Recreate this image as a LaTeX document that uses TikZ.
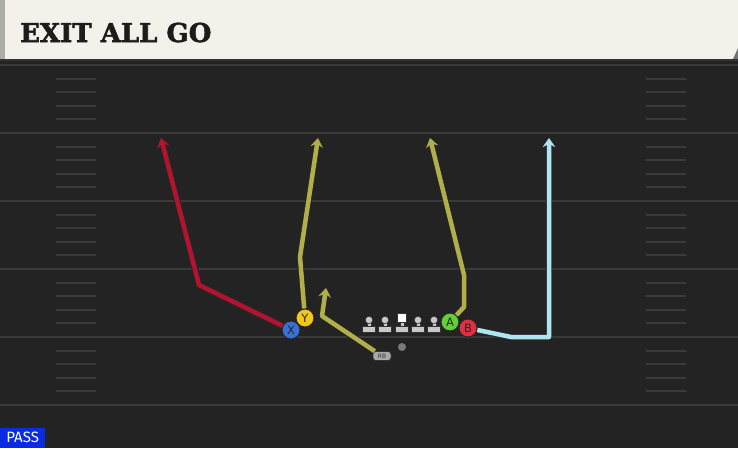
\documentclass[tikz,border=0pt]{standalone}
\usepackage{fontspec}
\usetikzlibrary{arrows.meta}
\newfontfamily\titlefont{DejaVu Serif}[FakeBold=2.2]
\newfontfamily\labelfont{DejaVu Sans}
\newfontfamily\passfont{Fira Sans}
\definecolor{header}{HTML}{F4F1EA}
\definecolor{strip}{HTML}{ADADA8}
\definecolor{field}{HTML}{232323}
\definecolor{yardline}{HTML}{3A3A3A}
\definecolor{titleink}{HTML}{1C1C1C}
\definecolor{routered}{HTML}{B3132F}
\definecolor{routeolive}{HTML}{B2AE4A}
\definecolor{routeblue}{HTML}{AEE5F1}
\definecolor{xblue}{HTML}{3B6FD6}
\definecolor{yyellow}{HTML}{F4C61A}
\definecolor{agreen}{HTML}{62CF3A}
\definecolor{bred}{HTML}{E0303F}
\definecolor{lineg}{HTML}{C9C9C9}
\definecolor{passblue}{HTML}{0A2BE3}
\definecolor{ballgray}{HTML}{7A7A7A}
\definecolor{rbgray}{HTML}{A9A9A9}
\begin{document}
\begin{tikzpicture}[x=1pt, y=-1pt, >={Stealth[length=9pt,width=12.5pt,inset=3pt]}]
	\tikzstyle{player} = [circle, draw=black!85, line width=1pt, minimum size=18pt, inner sep=0pt, font=\labelfont\fontsize{11.5}{11.5}\selectfont, text=black!85]
	\tikzstyle{route} = [line width=4.5pt, line join=round, preaction={draw=black!85, line width=6.5pt, line join=round, -{Stealth[length=11pt,width=15.5pt,inset=3.5pt]}}, ->]
	\tikzstyle{yard} = [yardline, line width=2pt]
	\tikzstyle{hash} = [yardline, line width=2pt]
	\tikzstyle{linebase} = [rectangle, fill=lineg, draw=black!80, line width=0.6pt, minimum width=13pt, minimum height=6pt, inner sep=0pt]
	\tikzstyle{lineman} = [fill=lineg, draw=black!80, line width=0.6pt]
	\useasboundingbox (0,0) rectangle (738,448);
	\fill[field] (0,59) rectangle (738,448);
	\fill[header] (0,0) -- (738,0) -- (738,48) -- (733,59) -- (0,59) -- cycle;
	\fill[black!55] (733,59) -- (738,48) -- (738,59) -- cycle;
	\fill[strip] (0,0) rectangle (5,59);
	\fill[black!80] (0,59) rectangle (738,61);
	\node[anchor=base west, font=\titlefont\bfseries\fontsize{26}{26}\selectfont, text=titleink, inner sep=0pt] (title) at (20,42) {EXIT ALL GO};
	\foreach \y in {65,133,...,406}
		\draw[yard] (0,\y) -- (738,\y);
	\foreach \y in {65,133,...,338}
		\foreach \k in {1,...,4} {
			\draw[hash] (56,\y+13.6*\k) -- (96,\y+13.6*\k);
			\draw[hash] (646,\y+13.6*\k) -- (686,\y+13.6*\k);
		}
	\node[anchor=south west, fill=passblue, text=white, minimum width=45pt, minimum height=20pt, inner sep=0pt, font=\passfont\fontsize{15}{15}\selectfont] (pass) at (0,448) {PASS};
	% line
	\foreach \x/\n in {369/lt,385/lg,418/rg,434/rt} {
		\draw[lineman] (\x-2,327) rectangle (\x+2,321);
		\node[linebase] (\n) at (\x,329) {};
		\draw[lineman] (\x,320) circle (3.7);
	}
	\draw[lineman] (400,327) rectangle (404,321);
	\node[linebase] (c) at (402,329) {};
	\draw[fill=white, draw=black!80, line width=0.6pt] (397.5,313.5) rectangle (406.5,322.5);
	\node[circle, fill=ballgray, minimum size=8pt, inner sep=0pt] (ball) at (402,347) {};
	\node[rectangle, rounded corners=3pt, fill=rbgray, draw=black!80, line width=0.6pt, minimum width=18pt, minimum height=9pt, inner sep=0pt, font=\labelfont\fontsize{6}{6}\selectfont, text=black!80] (rb) at (382,356) {RB};
	% players
	\node[player, fill=yyellow] (y) at (305,318) {Y};
	\node[player, fill=xblue] (x) at (291,330) {X};
	\node[player, fill=agreen] (a) at (450,322) {A};
	\node[player, fill=bred] (b) at (468,328) {B};
	% routes
	\coordinate (xb) at (199,285);
	\coordinate (xe) at (161,138);
	\coordinate (yb) at (300,257);
	\coordinate (ye) at (318,138);
	\coordinate (rbb) at (322,316);
	\coordinate (rbe) at (326,288);
	\coordinate (ab1) at (464,307);
	\coordinate (ab2) at (464,275);
	\coordinate (ae) at (430,138);
	\coordinate (bb1) at (511,337);
	\coordinate (bb2) at (549,337);
	\coordinate (be) at (549,138);
	\draw[route, routered] (x) -- (xb) -- (xe);
	\draw[route, routeolive] (y) -- (yb) -- (ye);
	\draw[route, routeolive] (rb) -- (rbb) -- (rbe);
	\draw[route, routeolive] (a) -- (ab1) -- (ab2) -- (ae);
	\draw[route, routeblue] (b) -- (bb1) -- (bb2) -- (be);
\end{tikzpicture}
\end{document}
